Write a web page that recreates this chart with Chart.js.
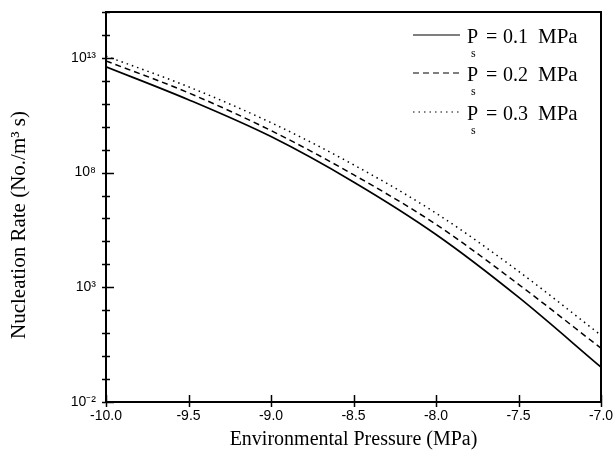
<!DOCTYPE html>
<html>
<head>
<meta charset="utf-8">
<script src="https://cdn.jsdelivr.net/npm/chart.js@4.4.1/dist/chart.umd.min.js"></script>
<style>
  html, body { margin:0; padding:0; background:#fff; }
  #wrap { position:relative; width:615px; height:459px; }
</style>
</head>
<body>
<div id="wrap"><canvas id="chart" width="615" height="459"></canvas></div>
<script>
// environmental pressure (MPa)
const pressure = [-10, -9.5, -9, -8.5, -8, -7.5, -7];
// nucleation rate (No./m^3 s) per saturation pressure
const rateP01 = [4.1e12, 1.5e11, 3.7e9, 3.9e7, 2.0e5, 370, 0.33];
const rateP02 = [7.4e12, 3.0e11, 6.8e9, 8.1e7, 5.5e5, 1.35e3, 2.2];
const rateP03 = [1.2e13, 5.5e11, 1.5e10, 2.2e8, 1.7e6, 5.0e3, 8.1];
const seriesValues = ['0.1', '0.2', '0.3'];
const xTicks = [-10, -9.5, -9, -8.5, -8, -7.5, -7];
const yDecades = [-2,-1,0,1,2,3,4,5,6,7,8,9,10,11,12,13,14,15];
const yLabelled = [-2, 3, 8, 13];
const yTitle = 'Nucleation Rate (No./m³ s)';

const sup = {'-':'⁻','0':'⁰','1':'¹','2':'²','3':'³','4':'⁴','5':'⁵','6':'⁶','7':'⁷','8':'⁸','9':'⁹'};
const toSup = n => String(n).split('').map(c => sup[c]).join('');

const pts = arr => pressure.map((p, i) => ({ x: p, y: arr[i] }));
const dashes = [[], [6, 4], [1.5, 4]];
const serif = '"Liberation Serif", "Times New Roman", serif';

// frame, tick marks crossing the axes, y title, legend with subscripts
const decor = {
  id: 'decor',
  afterDraw(chart) {
    const { ctx, chartArea: a, scales } = chart;
    ctx.save();
    ctx.strokeStyle = '#000';
    ctx.lineWidth = 2;
    ctx.strokeRect(a.left, a.top, a.right - a.left, a.bottom - a.top);
    ctx.lineWidth = 1.5;
    yDecades.forEach(e => {
      const y = Math.round(scales.y.getPixelForValue(Math.pow(10, e))) + 0.5;
      const major = yLabelled.includes(e);
      ctx.beginPath();
      ctx.moveTo(a.left - 4, y);
      ctx.lineTo(a.left + (major ? 8 : 4), y);
      ctx.stroke();
    });
    xTicks.forEach(v => {
      const x = Math.round(scales.x.getPixelForValue(v)) + 0.5;
      ctx.beginPath();
      ctx.moveTo(x, a.bottom + 5);
      ctx.lineTo(x, a.bottom - 7);
      ctx.stroke();
    });

    ctx.fillStyle = '#000';
    // y title
    ctx.save();
    ctx.translate(25, 225);
    ctx.rotate(-Math.PI / 2);
    ctx.font = '21px ' + serif;
    ctx.textAlign = 'center';
    ctx.textBaseline = 'alphabetic';
    ctx.fillText(yTitle, 0, 0);
    ctx.restore();

    // legend
    const rows = [35, 73, 112];
    ctx.textBaseline = 'alphabetic';
    rows.forEach((ry, i) => {
      ctx.setLineDash(dashes[i]);
      ctx.lineWidth = 1.2;
      ctx.beginPath();
      ctx.moveTo(413, ry);
      ctx.lineTo(460, ry);
      ctx.stroke();
      ctx.setLineDash([]);
      ctx.font = '20px ' + serif;
      ctx.fillText('P', 467, ry + 8);
      ctx.fillText('=', 486, ry + 8);
      ctx.fillText(seriesValues[i], 503, ry + 8);
      ctx.font = '21px ' + serif;
      ctx.fillText('MPa', 538, ry + 8);
      ctx.font = '12px ' + serif;
      ctx.fillText('s', 471, ry + 22);
    });
    ctx.restore();
  }
};

new Chart(document.getElementById('chart'), {
  type: 'line',
  data: {
    datasets: [rateP01, rateP02, rateP03].map((arr, i) => ({
      label: 'Ps = ' + seriesValues[i] + ' MPa',
      data: pts(arr),
      borderColor: '#000',
      borderWidth: i === 0 ? 1.7 : 1.5,
      borderDash: dashes[i],
      pointRadius: 0,
      fill: false,
      cubicInterpolationMode: 'monotone'
    }))
  },
  options: {
    responsive: false,
    animation: false,
    layout: { padding: { top: 12, right: 14, left: 0, bottom: 0 } },
    plugins: { legend: { display: false }, tooltip: { enabled: false } },
    scales: {
      x: {
        type: 'linear', min: -10, max: -7,
        afterBuildTicks: s => { s.ticks = xTicks.map(v => ({ value: v })); },
        afterFit: s => { s.height = 57; s.paddingLeft = 0; s.paddingRight = 0; },
        grid: { display: false, drawTicks: false },
        border: { display: false },
        ticks: {
          color: '#000', padding: 6, maxRotation: 0, autoSkip: false,
          font: { family: '"Liberation Sans", Arial, sans-serif', size: 14 },
          callback: v => Number(v).toFixed(1)
        },
        title: {
          display: true, text: 'Environmental Pressure (MPa)', color: '#000',
          font: { family: serif, size: 20 },
          padding: { top: 2, bottom: 7 }
        }
      },
      y: {
        type: 'logarithmic', min: 1e-2, max: 1e15,
        afterBuildTicks: s => { s.ticks = yDecades.map(e => ({ value: Math.pow(10, e) })); },
        afterFit: s => { s.width = 106; s.paddingTop = 0; s.paddingBottom = 0; },
        grid: { display: false, drawTicks: false },
        border: { display: false },
        ticks: {
          color: '#000', padding: 10, autoSkip: false,
          font: { family: '"Liberation Sans", Arial, sans-serif', size: 14 },
          callback: v => {
            const e = Math.round(Math.log10(v));
            return yLabelled.includes(e) ? '10' + toSup(e) : '';
          }
        },
        title: { display: false }
      }
    }
  },
  plugins: [decor]
});
</script>
</body>
</html>
